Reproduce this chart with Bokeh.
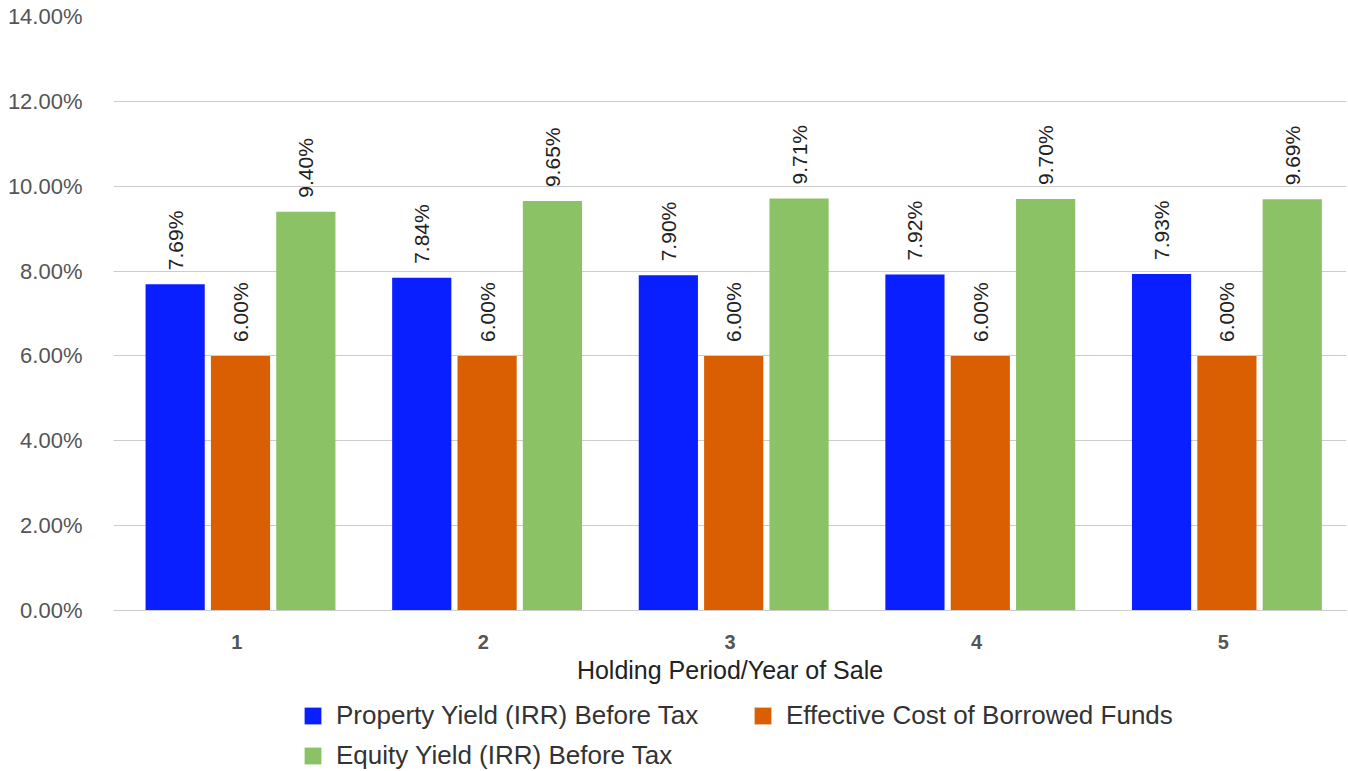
from bokeh.plotting import figure
from bokeh.layouts import column
from bokeh.models import (ColumnDataSource, Range1d, FixedTicker, NumeralTickFormatter,
                          Legend, LegendItem)
from bokeh.core.properties import value
from bokeh.embed import file_html
from bokeh.resources import INLINE

# Holding period (year of sale)
years = [1, 2, 3, 4, 5]
property_yield = [0.0769, 0.0784, 0.0790, 0.0792, 0.0793]
cost_of_funds = [0.0600, 0.0600, 0.0600, 0.0600, 0.0600]
equity_yield = [0.0940, 0.0965, 0.0971, 0.0970, 0.0969]
y_ticks = [0.0, 0.02, 0.04, 0.06, 0.08, 0.10, 0.12, 0.14]

series = [
    ("Property Yield (IRR) Before Tax", property_yield, "#0a1fff", -0.25),
    ("Effective Cost of Borrowed Funds", cost_of_funds, "#d95f02", 0.015),
    ("Equity Yield (IRR) Before Tax", equity_yield, "#8bc265", 0.28),
]

FONT = "Liberation Sans"

p = figure(width=1348, height=690, output_backend="svg", toolbar_location=None,
           x_range=Range1d(0.5, 5.5), y_range=Range1d(0, 0.14))
p.min_border_left = 113
p.min_border_right = 2
p.min_border_top = 16
p.min_border_bottom = 80
p.outline_line_color = None
p.background_fill_color = "white"
p.border_fill_color = "white"

# y axis: percent labels, no line or ticks
p.yaxis.ticker = FixedTicker(ticks=y_ticks)
p.yaxis.formatter = NumeralTickFormatter(format="0.00%")
p.yaxis.axis_line_color = None
p.yaxis.major_tick_line_color = None
p.yaxis.minor_tick_line_color = None
p.yaxis.major_label_text_font = FONT
p.yaxis.major_label_text_font_size = "22px"
p.yaxis.major_label_text_color = "#555555"
p.yaxis.major_label_standoff = 25

# x axis: bold year labels and title
p.xaxis.ticker = FixedTicker(ticks=years)
p.xaxis.axis_line_color = "#cccccc"
p.xaxis.major_tick_line_color = None
p.xaxis.minor_tick_line_color = None
p.xaxis.major_label_text_font = FONT
p.xaxis.major_label_text_font_size = "20px"
p.xaxis.major_label_text_font_style = "bold"
p.xaxis.major_label_text_color = "#555555"
p.xaxis.major_label_standoff = 18
p.xaxis.axis_label = "Holding Period/Year of Sale"
p.xaxis.axis_label_text_font = FONT
p.xaxis.axis_label_text_font_size = "25px"
p.xaxis.axis_label_text_font_style = "normal"
p.xaxis.axis_label_text_color = "#222222"
p.xaxis.axis_label_standoff = 4

p.xgrid.grid_line_color = None
p.ygrid.grid_line_color = "#cccccc"
p.ygrid.grid_line_width = 1

for name, vals, color, offset in series:
    src = ColumnDataSource(dict(
        x=[y + offset for y in years],
        top=vals,
        label=["{:.2f}%".format(v * 100) for v in vals],
    ))
    p.vbar(x="x", top="top", bottom=0, width=0.24, source=src,
           fill_color=color, line_color=None)
    p.text(x="x", y="top", text="label", source=src, angle=1.5708,
           text_align="left", text_baseline="middle", y_offset=-14,
           text_font=value(FONT), text_font_size="21px", text_color="#222222")

# Legend strip under the chart
lg = figure(width=1348, height=81, output_backend="svg", toolbar_location=None,
            x_range=Range1d(0, 1), y_range=Range1d(0, 1),
            x_axis_type=None, y_axis_type=None)
lg.min_border = 0
lg.outline_line_color = None
lg.xgrid.visible = False
lg.ygrid.visible = False

items = []
for name, vals, color, offset in series:
    # one off-range bar per series so the legend has a swatch to draw
    r = lg.vbar(x=[-10], top=[0], width=0.1, fill_color=color, line_color=None)
    items.append(LegendItem(label=name, renderers=[r]))

legend = Legend(items=items, orientation="horizontal", ncols=2,
                location=(189, 0), padding=0, margin=0, spacing=9,
                border_line_color=None, background_fill_alpha=0,
                glyph_width=21, glyph_height=21, label_standoff=13,
                label_width=407, label_height=21,
                label_text_font=FONT, label_text_font_size="26px",
                label_text_color="#333333")
lg.add_layout(legend, "center")

open("out.html", "w").write(file_html(column(p, lg), INLINE))
